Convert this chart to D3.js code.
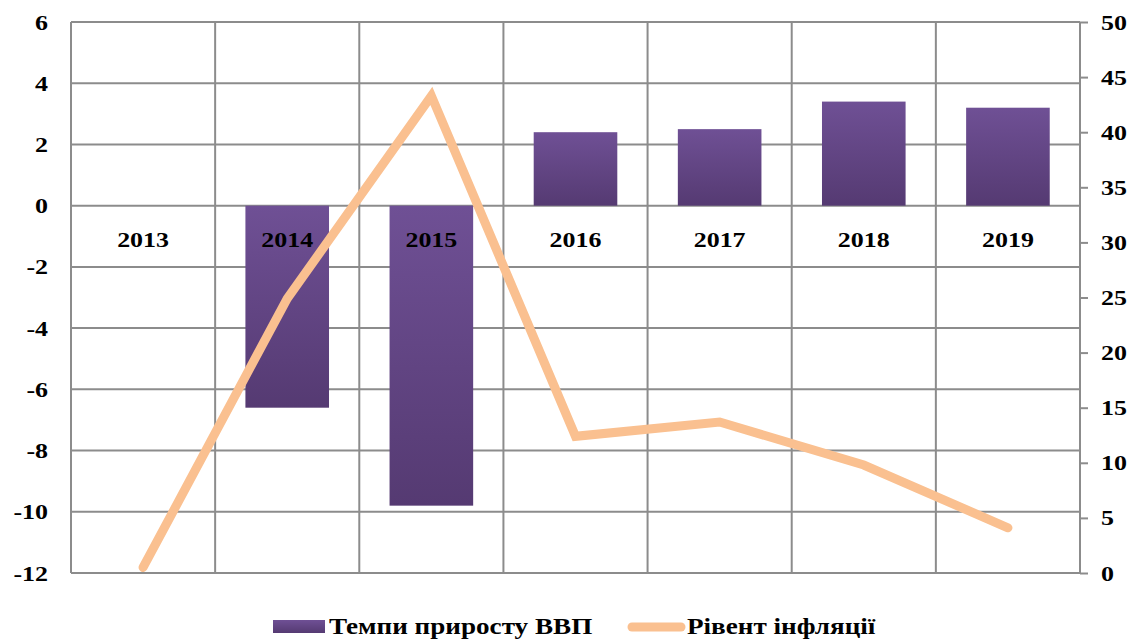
<!DOCTYPE html>
<html>
<head>
<meta charset="utf-8">
<script src="https://cdn.jsdelivr.net/npm/d3@7"></script>
<style>
  body { margin: 0; background: #fff; }
  svg text { font-family: "Liberation Serif", "Times New Roman", serif; font-weight: bold; fill: #000; }
</style>
</head>
<body>
<svg id="chart" width="1142" height="640"></svg>
<script>
// data
var years = ["2013", "2014", "2015", "2016", "2017", "2018", "2019"]
var gdpGrowth = [0, -6.6, -9.8, 2.4, 2.5, 3.4, 3.2]
var inflation = [0.5, 24.9, 43.3, 12.4, 13.7, 9.8, 4.1]
var leftTicks = [-12, -10, -8, -6, -4, -2, 0, 2, 4, 6]
var rightTicks = [0, 5, 10, 15, 20, 25, 30, 35, 40, 45, 50]
var seriesNames = ["Темпи приросту ВВП", "Рівент інфляції"]

var svg = d3.select("#chart")
var pLeft = 71, pRight = 1080, pTop = 22, pBottom = 573
var gridColor = "#8c8c8c"
var stretch = 1.18   // reference text is a bit wider than tall
var fontFam = "'Liberation Serif', 'Times New Roman', serif"

var x = d3.scaleBand().domain(years).range([pLeft, pRight]).padding(0)
var yL = d3.scaleLinear().domain([-12, 6]).range([pBottom, pTop])
var yR = d3.scaleLinear().domain([0, 50]).range([pBottom, pTop])

var defs = svg.append("defs")
var grad = defs.append("linearGradient")
  .attr("id", "barGrad")
  .attr("x1", 0).attr("y1", 0).attr("x2", 0).attr("y2", 1)
grad.append("stop").attr("offset", "0%").attr("stop-color", "#6f5095")
grad.append("stop").attr("offset", "100%").attr("stop-color", "#553a72")

// horizontal grid
svg.append("g").selectAll("line").data(leftTicks).join("line")
  .attr("x1", pLeft).attr("x2", pRight)
  .attr("y1", function(d){ return yL(d) }).attr("y2", function(d){ return yL(d) })
  .attr("stroke", gridColor).attr("stroke-width", 2)

// vertical grid at category boundaries
var bounds = years.map(function(d){ return x(d) }).concat([pRight])
svg.append("g").selectAll("line").data(bounds).join("line")
  .attr("x1", function(d){ return d }).attr("x2", function(d){ return d })
  .attr("y1", pTop).attr("y2", pBottom)
  .attr("stroke", gridColor).attr("stroke-width", 2)

// left axis labels (plain hyphen for negatives, like the original)
var leftAxis = d3.axisLeft(yL).tickValues(leftTicks).tickSize(0).tickPadding(0)
  .tickFormat(function(d){ return String(d) })
var gl = svg.append("g").attr("transform", "translate(" + pLeft + ",0)").call(leftAxis)
gl.attr("font-family", fontFam).attr("font-size", 22)
gl.select(".domain").remove()
gl.selectAll("text")
  .attr("x", -23 / stretch)
  .attr("transform", "scale(" + stretch + ",1)")
  .attr("font-weight", "bold").attr("fill", "#000")

// right axis with outward ticks
var rightAxis = d3.axisRight(yR).tickValues(rightTicks).tickSize(8).tickPadding(0)
  .tickFormat(function(d){ return String(d) })
var gr = svg.append("g").attr("transform", "translate(" + pRight + ",0)").call(rightAxis)
gr.attr("font-family", fontFam).attr("font-size", 22)
gr.select(".domain").remove()
gr.selectAll("line").attr("stroke", gridColor).attr("stroke-width", 2)
gr.selectAll("text")
  .attr("x", 21 / stretch)
  .attr("transform", "scale(" + stretch + ",1)")
  .attr("font-weight", "bold").attr("fill", "#000")

// bars
var barW = x.bandwidth() * 0.58
svg.append("g").selectAll("rect").data(years).join("rect")
  .attr("x", function(d){ return x(d) + (x.bandwidth() - barW) / 2 })
  .attr("width", barW)
  .attr("y", function(d, i){ return yL(Math.max(0, gdpGrowth[i])) })
  .attr("height", function(d, i){ return Math.abs(yL(gdpGrowth[i]) - yL(0)) })
  .attr("fill", "url(#barGrad)")

// category labels sitting just under the zero line
svg.append("g").selectAll("text").data(years).join("text")
  .attr("transform", function(d){
    return "translate(" + (x(d) + x.bandwidth() / 2) + "," + (yL(0) + 41) + ") scale(" + stretch + ",1)"
  })
  .attr("text-anchor", "middle")
  .attr("font-size", 22)
  .text(function(d){ return d })

// inflation line on right scale
var line = d3.line()
  .x(function(d, i){ return x(years[i]) + x.bandwidth() / 2 })
  .y(function(d){ return yR(d) })
svg.append("path").datum(inflation)
  .attr("d", line)
  .attr("fill", "none")
  .attr("stroke", "#fac090")
  .attr("stroke-width", 9)
  .attr("stroke-linecap", "round")
  .attr("stroke-linejoin", "miter")

// legend
var lg = svg.append("g")
lg.append("rect").attr("x", 273).attr("y", 620).attr("width", 52).attr("height", 13)
  .attr("fill", "url(#barGrad)")
lg.append("text").attr("transform", "translate(329,634) scale(" + stretch + ",1)")
  .attr("font-size", 23).text(seriesNames[0])
lg.append("line").attr("x1", 632).attr("x2", 681).attr("y1", 627).attr("y2", 627)
  .attr("stroke", "#fac090").attr("stroke-width", 9).attr("stroke-linecap", "round")
lg.append("text").attr("transform", "translate(687,634) scale(" + stretch + ",1)")
  .attr("font-size", 23).text(seriesNames[1])
</script>
</body>
</html>
